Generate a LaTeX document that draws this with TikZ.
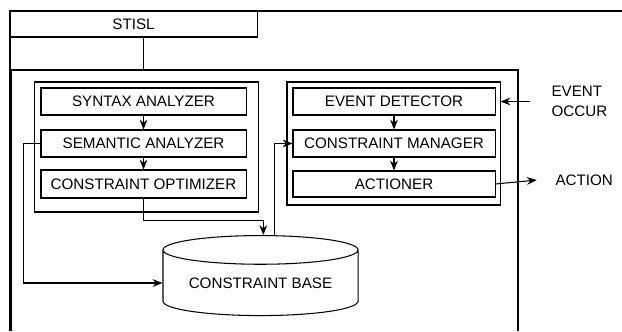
\documentclass[tikz,border=0pt]{standalone}
\usepackage{fontspec}
\setmainfont{Liberation Sans}
\usetikzlibrary{arrows.meta,shapes.geometric}

\tikzset{
  unit/.style={draw, minimum width=5.125cm, minimum height=0.675cm, inner sep=0pt},
  group/.style={draw, inner sep=0pt},
  arr/.style={-{Stealth[length=7pt,width=5.5pt]}},
  lbl/.style={align=left, inner sep=0pt}
}

\begin{document}
\begin{tikzpicture}[x=0.025cm, y=-0.025cm, line width=0.75pt,
    font=\fontsize{10.8}{14.2}\selectfont]
            \useasboundingbox (0,0) rectangle (622,331);
            % frames
            \draw (10,331) |- (622,11);
            \draw[line width=1.3pt] (11,331) -- (11,70);
            \draw (11,70) -- (518,70) -- (518,331);
            \coordinate (maintop) at (0,70);
            \node[draw, minimum width=6.175cm, minimum height=0.65cm, inner sep=0pt] (stisl) at (133.5,24) {STISL};
            % compiler side
            \node[group, minimum width=5.575cm, minimum height=3.25cm] (leftgrp) at (146.5,147) {};
            \node[unit] (syntax) at (143.5,101.5) {SYNTAX ANALYZER};
            \node[unit] (semantic) at (143.5,143.5) {SEMANTIC ANALYZER};
            \node[unit, minimum height=0.7cm] (optim) at (143.5,184) {CONSTRAINT OPTIMIZER};
            % run-time side
            \node[group, minimum width=5.325cm, minimum height=3.075cm] (rightgrp) at (393.5,143.5) {};
            \node[unit, minimum width=5.05cm] (event) at (394,101.5) {EVENT DETECTOR};
            \node[unit, minimum width=5.05cm] (manager) at (394,143.5) {CONSTRAINT MANAGER};
            \node[unit, minimum width=5.05cm, minimum height=0.65cm] (actioner) at (394,184) {ACTIONER};
            \node[draw, cylinder, shape border rotate=90, aspect=0.2, minimum width=4.875cm, minimum height=2.0cm, inner sep=0pt] (base) at (260.5,283) {CONSTRAINT BASE};
            \node[lbl, anchor=west] (occur) at (551,101) {EVENT\\OCCUR};
            \node[lbl, anchor=west] (action) at (555,180) {ACTION};
            % connectors
            \draw (stisl.south -| syntax) -- (syntax |- maintop);
            \draw[arr] (syntax) -- (semantic);
            \draw[arr] (semantic) -- (optim);
            \draw[arr] (event) -- (manager);
            \draw[arr] (manager) -- (actioner);
            \draw[arr] (optim.south) -- ++(0,22) -| ([xshift=2]base.north);
            \draw[arr] ([xshift=10]base.north) |- (manager.west);
            \draw[arr] (semantic.west) -- ++(-17,0) |- (base.west);
            \draw[arr] ([xshift=-15]occur.west |- event) -- (rightgrp.east |- event);
            \draw[arr] (actioner.east) -- ([xshift=-13]action.west);
\end{tikzpicture}
\end{document}
